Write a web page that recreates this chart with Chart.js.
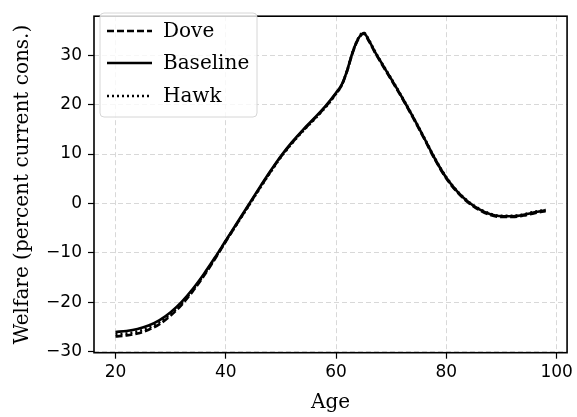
<!DOCTYPE html>
<html>
<head>
<meta charset="utf-8">
<script src="https://cdn.jsdelivr.net/npm/chart.js@4.4.0/dist/chart.umd.min.js"></script>
<style>
  html, body { margin: 0; padding: 0; background: #fff; }
  canvas { display: block; }
</style>
</head>
<body>
<canvas id="welfareChart" width="577" height="417"></canvas>
<script>
// Welfare by age under three policy scenarios
const ages = [20, 22, 24, 26, 28, 30, 32, 34, 36, 38, 40, 42, 44, 46, 48, 50, 52, 54, 56, 58,
              60, 61, 62, 63, 64, 65, 66, 67, 68, 70, 72, 74, 76, 78, 80, 82, 84, 86, 88, 90,
              92, 94, 96, 98];
const dove = [-26.9, -26.7, -26.3, -25.55, -24.4, -22.7, -20.5, -17.8, -14.7, -11.3, -7.7, -4.15, -0.65, 2.85, 6.25, 9.45, 12.25, 14.75, 17.05, 19.45,
              22.25, 23.85, 26.75, 30.45, 33.15, 34.35, 32.75, 30.65, 28.75, 25.05, 21.25, 17.25, 13.05, 8.75, 5.05, 2.25, 0.15, -1.35, -2.35, -2.75,
              -2.75, -2.45, -1.95, -1.55];
const baseline = [-26.0, -25.8, -25.4, -24.7, -23.6, -22.0, -19.9, -17.3, -14.3, -11.0, -7.5, -4.0, -0.5, 3.0, 6.4, 9.6, 12.4, 14.9, 17.2, 19.6,
                  22.4, 24.0, 26.9, 30.6, 33.3, 34.5, 32.9, 30.8, 28.9, 25.2, 21.4, 17.4, 13.2, 8.9, 5.2, 2.4, 0.3, -1.2, -2.2, -2.6,
                  -2.6, -2.3, -1.8, -1.4];
const hawk = [-26.5, -26.3, -25.9, -25.15, -24.0, -22.35, -20.2, -17.55, -14.5, -11.15, -7.6, -4.2, -0.75, 2.75, 6.15, 9.35, 12.15, 14.65, 16.95, 19.35,
              22.2, 23.9, 26.9, 30.6, 33.4, 34.6, 33.0, 30.9, 29.0, 25.3, 21.5, 17.5, 13.3, 9.0, 5.3, 2.5, 0.4, -1.1, -2.1, -2.5,
              -2.5, -2.2, -1.7, -1.3];
const xTicks = [20, 40, 60, 80, 100];
const yTicks = [-30, -20, -10, 0, 10, 20, 30];

const seriesNames = ['Dove', 'Baseline', 'Hawk'];
const seriesDash = [[7, 3], [], [2, 3]];

const serifFont = "'DejaVu Serif', serif";
const sansFont = "'DejaVu Sans', sans-serif";

function toPoints(values) {
    return ages.map(function(a, i) { return { x: a, y: values[i] }; });
}

// frame around the plot area + legend in the upper left corner
const framePlugin = {
    id: 'frameAndLegend',
    afterDraw: function(chart) {
        const ctx = chart.ctx;
        const area = chart.chartArea;
        ctx.save();
        ctx.strokeStyle = '#000';
        ctx.lineWidth = 1.6;
        ctx.setLineDash([]);
        ctx.strokeRect(area.left, area.top, area.right - area.left, area.bottom - area.top);

        // legend box
        const bx = 100, by = 13, bw = 157, bh = 104, r = 4;
        ctx.beginPath();
        ctx.moveTo(bx + r, by);
        ctx.arcTo(bx + bw, by, bx + bw, by + bh, r);
        ctx.arcTo(bx + bw, by + bh, bx, by + bh, r);
        ctx.arcTo(bx, by + bh, bx, by, r);
        ctx.arcTo(bx, by, bx + bw, by, r);
        ctx.closePath();
        ctx.fillStyle = 'rgba(255,255,255,0.8)';
        ctx.fill();
        ctx.strokeStyle = '#d6d6d6';
        ctx.lineWidth = 1;
        ctx.stroke();

        ctx.font = '20px ' + serifFont;
        ctx.textBaseline = 'middle';
        ctx.fillStyle = '#000';
        const rowsY = [31, 63, 96];
        seriesNames.forEach(function(name, i) {
            ctx.beginPath();
            ctx.strokeStyle = '#000';
            ctx.lineWidth = 2.6;
            ctx.setLineDash(seriesDash[i]);
            ctx.moveTo(107, rowsY[i]);
            ctx.lineTo(152, rowsY[i]);
            ctx.stroke();
            ctx.setLineDash([]);
            ctx.fillText(name, 163, rowsY[i] + 1);
        });
        ctx.restore();
    }
};

new Chart(document.getElementById('welfareChart'), {
    type: 'line',
    data: {
        datasets: [
            { label: 'Dove', data: toPoints(dove), borderDash: seriesDash[0] },
            { label: 'Baseline', data: toPoints(baseline), borderDash: seriesDash[1] },
            { label: 'Hawk', data: toPoints(hawk), borderDash: seriesDash[2] }
        ].map(function(ds) {
            ds.borderColor = '#000';
            ds.borderWidth = 2.6;
            ds.pointRadius = 0;
            ds.fill = false;
            ds.cubicInterpolationMode = 'monotone';
            return ds;
        })
    },
    options: {
        responsive: false,
        animation: false,
        layout: { padding: { top: 7, right: 8, left: 0, bottom: 0 } },
        plugins: {
            legend: { display: false },
            tooltip: { enabled: false }
        },
        scales: {
            x: {
                type: 'linear',
                min: 16.1,
                max: 101.9,
                afterBuildTicks: function(scale) {
                    scale.ticks = xTicks.map(function(v) { return { value: v }; });
                },
                afterFit: function(scale) { scale.height = 64.3; },
                grid: {
                    color: '#d4d4d4',
                    lineWidth: 0.9,
                    tickColor: '#000',
                    tickLength: 6,
                    tickWidth: 1.2,
                    tickBorderDash: []
                },
                border: { display: false, dash: [5, 3] },
                ticks: {
                    color: '#000',
                    padding: 4,
                    maxRotation: 0,
                    font: { family: sansFont, size: 17 }
                },
                title: {
                    display: true,
                    text: 'Age',
                    color: '#000',
                    padding: { top: 0, bottom: 2 },
                    font: { family: serifFont, size: 20 }
                }
            },
            y: {
                type: 'linear',
                min: -30.2,
                max: 37.9,
                afterBuildTicks: function(scale) {
                    scale.ticks = yTicks.map(function(v) { return { value: v }; });
                },
                afterFit: function(scale) { scale.width = 94; },
                grid: {
                    color: '#d4d4d4',
                    lineWidth: 0.9,
                    tickColor: '#000',
                    tickLength: 6,
                    tickWidth: 1.2,
                    tickBorderDash: []
                },
                border: { display: false, dash: [5, 3] },
                ticks: {
                    color: '#000',
                    padding: 6,
                    font: { family: sansFont, size: 17 },
                    callback: function(v) { return String(v).replace('-', '\u2212'); }
                },
                title: {
                    display: true,
                    text: 'Welfare (percent current cons.)',
                    color: '#000',
                    padding: { top: 11, bottom: 0 },
                    font: { family: serifFont, size: 20 }
                }
            }
        }
    },
    plugins: [framePlugin]
});
</script>
</body>
</html>
